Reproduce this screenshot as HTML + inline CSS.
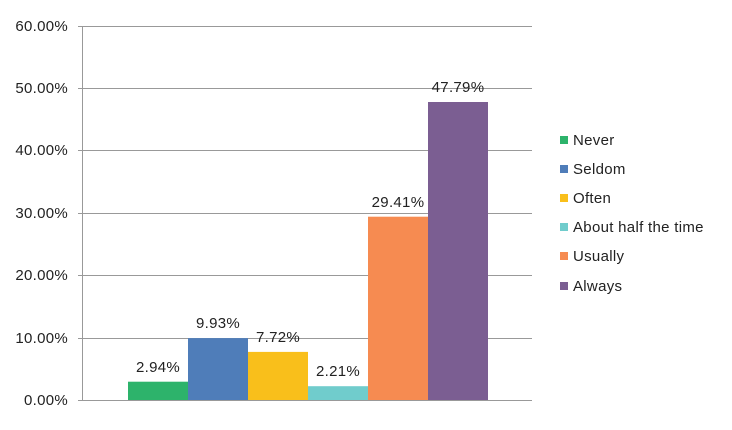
<!DOCTYPE html>
<html><head><style>body{margin:0;background:#fff}svg{display:block}text{font-family:"Liberation Sans",sans-serif;font-size:15px;fill:#222;letter-spacing:0.3px}</style></head><body>
<svg width="732" height="430" xmlns="http://www.w3.org/2000/svg">
<g stroke="#999" stroke-width="1">
<line x1="78" y1="26.5" x2="532" y2="26.5"/>
<line x1="78" y1="88.5" x2="532" y2="88.5"/>
<line x1="78" y1="150.5" x2="532" y2="150.5"/>
<line x1="78" y1="213.5" x2="532" y2="213.5"/>
<line x1="78" y1="275.5" x2="532" y2="275.5"/>
<line x1="78" y1="338.5" x2="532" y2="338.5"/>
<line x1="78" y1="400.5" x2="532" y2="400.5"/>
<line x1="82.5" y1="26" x2="82.5" y2="400"/>
</g>
<g text-anchor="end">
<text x="68" y="31">60.00%</text><text x="68" y="93">50.00%</text><text x="68" y="155">40.00%</text><text x="68" y="218">30.00%</text><text x="68" y="280">20.00%</text><text x="68" y="343">10.00%</text><text x="68" y="405">0.00%</text>
</g>
<rect x="128" y="381.7" width="60" height="18.3" fill="#2db36b"/>
<rect x="188" y="338.1" width="60" height="61.9" fill="#4f7db9"/>
<rect x="248" y="351.9" width="60" height="48.1" fill="#f9bf1b"/>
<rect x="308" y="386.2" width="60" height="13.8" fill="#70cccc"/>
<rect x="368" y="216.7" width="60" height="183.3" fill="#f68b51"/>
<rect x="428" y="102" width="60" height="298" fill="#7b5e92"/>
<g text-anchor="middle">
<text x="158" y="372">2.94%</text><text x="218" y="328">9.93%</text><text x="278" y="342">7.72%</text><text x="338" y="376">2.21%</text><text x="398" y="207">29.41%</text><text x="458" y="92">47.79%</text>
</g>
<rect x="560" y="136" width="8" height="8" fill="#2db36b"/><text x="573" y="145">Never</text>
<rect x="560" y="165" width="8" height="8" fill="#4f7db9"/><text x="573" y="174">Seldom</text>
<rect x="560" y="194" width="8" height="8" fill="#f9bf1b"/><text x="573" y="203">Often</text>
<rect x="560" y="223" width="8" height="8" fill="#70cccc"/><text x="573" y="232">About half the time</text>
<rect x="560" y="252" width="8" height="8" fill="#f68b51"/><text x="573" y="261">Usually</text>
<rect x="560" y="282" width="8" height="8" fill="#7b5e92"/><text x="573" y="291">Always</text>
</svg>
</body></html>
